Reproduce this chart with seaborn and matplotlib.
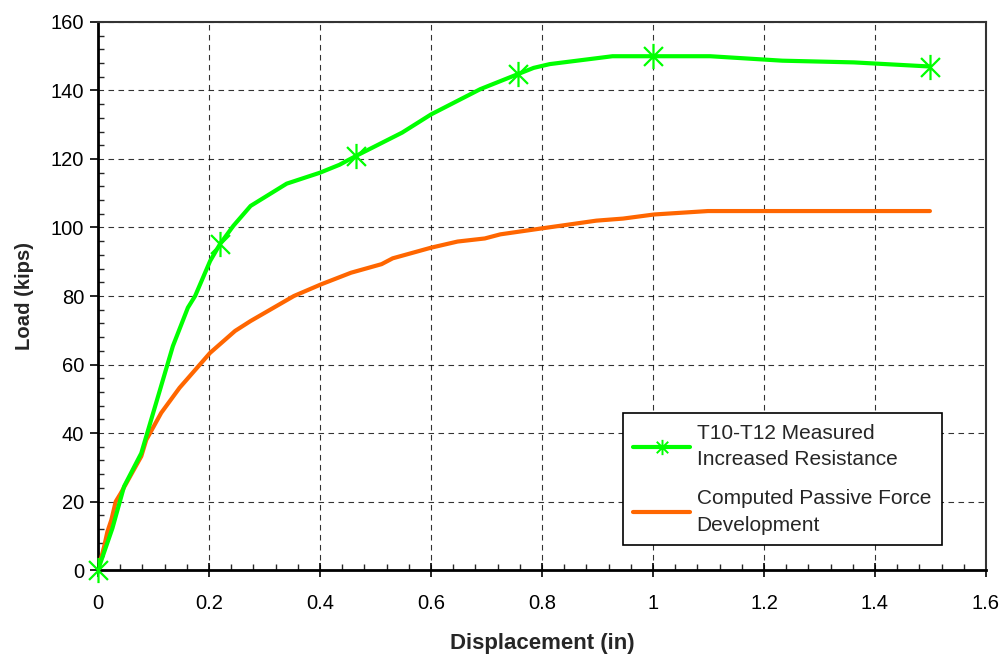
import numpy as np
import pandas as pd
import seaborn as sns
import matplotlib
matplotlib.use("Agg")
import matplotlib.pyplot as plt
from matplotlib.path import Path
from matplotlib.lines import Line2D
from matplotlib.ticker import MultipleLocator, FuncFormatter

# Measured load-displacement response (T10-T12)
measured_disp = [0.0, 0.026, 0.047, 0.078, 0.111, 0.135, 0.162, 0.175, 0.202, 0.22,
                 0.244, 0.275, 0.34, 0.40, 0.435, 0.465, 0.548, 0.600, 0.689, 0.757,
                 0.785, 0.814, 0.927, 1.0, 1.103, 1.233, 1.362, 1.499]
measured_load = [0.0, 12.2, 24.4, 34.1, 52.2, 65.4, 76.6, 80.0, 90.2, 95.2,
                 100.5, 106.3, 112.8, 116.0, 118.3, 120.9, 127.7, 133.0, 140.4, 144.8,
                 146.6, 147.7, 150.0, 150.0, 150.0, 148.7, 148.2, 147.0]
# Points carrying a marker
marker_disp = [0.0, 0.22, 0.465, 0.757, 1.0, 1.499]
marker_load = [0.0, 95.2, 120.9, 144.8, 150.0, 147.0]

# Computed passive force development
computed_disp = [0.0, 0.011, 0.017, 0.024, 0.032, 0.041, 0.078, 0.087, 0.114, 0.147,
                 0.202, 0.247, 0.275, 0.353, 0.402, 0.456, 0.511, 0.531, 0.600, 0.648,
                 0.697, 0.725, 0.798, 0.898, 0.946, 1.002, 1.099, 1.499]
computed_load = [0.0, 6.8, 11.2, 14.6, 20.0, 22.4, 33.2, 38.0, 45.9, 53.2,
                 63.4, 69.8, 72.7, 80.0, 83.4, 86.8, 89.3, 91.0, 94.1, 95.9,
                 96.8, 98.0, 99.7, 102.0, 102.6, 103.8, 104.8, 104.8]

measured_label = "T10-T12 Measured\nIncreased Resistance"
computed_label = "Computed Passive Force\nDevelopment"

sns.set_style("white")
plt.rcParams["font.family"] = ["Liberation Sans", "DejaVu Sans"]

GREEN = "#00FF00"
ORANGE = "#FF6600"

# Star marker: vertical stroke plus an X
star = Path([(0, -1), (0, 1), (-0.75, -0.75), (0.75, 0.75), (-0.75, 0.75), (0.75, -0.75)],
            [Path.MOVETO, Path.LINETO, Path.MOVETO, Path.LINETO, Path.MOVETO, Path.LINETO])

fig = plt.figure(figsize=(10.06, 6.58), dpi=100)
ax = fig.add_axes([0.0974, 0.1337, 0.8827, 0.8329])

df_m = pd.DataFrame({"x": measured_disp, "y": measured_load})
df_c = pd.DataFrame({"x": computed_disp, "y": computed_load})
df_mk = pd.DataFrame({"x": marker_disp, "y": marker_load})

sns.lineplot(data=df_m, x="x", y="y", sort=False, estimator=None, color=GREEN,
             lw=3.0, ax=ax, zorder=4)
sns.scatterplot(data=df_mk, x="x", y="y", marker=star, s=330, color=GREEN,
                linewidth=1.6, edgecolor=GREEN, ax=ax, zorder=5, clip_on=False)
sns.lineplot(data=df_c, x="x", y="y", sort=False, estimator=None, color=ORANGE,
             lw=3.0, ax=ax, zorder=3)

ax.set_xlim(0, 1.6)
ax.set_ylim(0, 160)
ax.xaxis.set_major_locator(MultipleLocator(0.2))
ax.xaxis.set_minor_locator(MultipleLocator(0.04))
ax.yaxis.set_major_locator(MultipleLocator(20))
ax.yaxis.set_minor_locator(MultipleLocator(4))
ax.xaxis.set_major_formatter(FuncFormatter(lambda v, p: f"{v:g}"))
ax.yaxis.set_major_formatter(FuncFormatter(lambda v, p: f"{v:g}"))

ax.grid(True, which="major", color="black", linestyle=(0, (5, 4)), lw=0.8, alpha=0.8)
ax.set_axisbelow(True)

ax.tick_params(axis="x", which="major", direction="inout", length=10, width=1.2,
               labelsize=14.5, colors="black", bottom=True, pad=12)
ax.tick_params(axis="y", which="major", direction="out", length=6, width=1.2,
               labelsize=14.5, colors="black", left=True, pad=4)
ax.tick_params(axis="both", which="minor", direction="in", length=4, width=1.0,
               bottom=True, left=True)

for side in ["left", "bottom"]:
    ax.spines[side].set_linewidth(2.0)
    ax.spines[side].set_color("black")
for side in ["top", "right"]:
    ax.spines[side].set_linewidth(1.5)
    ax.spines[side].set_color("#333333")

ax.set_xlabel("Displacement (in)", fontsize=16, fontweight="bold", labelpad=15)
ax.set_ylabel("Load (kips)", fontsize=14.6, fontweight="bold", labelpad=12)

handles = [
    Line2D([], [], color=GREEN, lw=3.0, marker=star, markersize=11, markeredgewidth=1.4),
    Line2D([], [], color=ORANGE, lw=3.0),
]
leg = ax.legend(handles, [measured_label, computed_label], loc="lower left",
                bbox_to_anchor=(0.591, 0.0456), borderaxespad=0, fontsize=15,
                frameon=True, fancybox=False, edgecolor="black", framealpha=1,
                handlelength=2.75, labelspacing=0.95, borderpad=0.5,
                handletextpad=0.3)
leg.get_frame().set_linewidth(1.2)
for t in leg.get_texts():
    t.set_linespacing(1.5)

fig.savefig("out.png", dpi=100)
